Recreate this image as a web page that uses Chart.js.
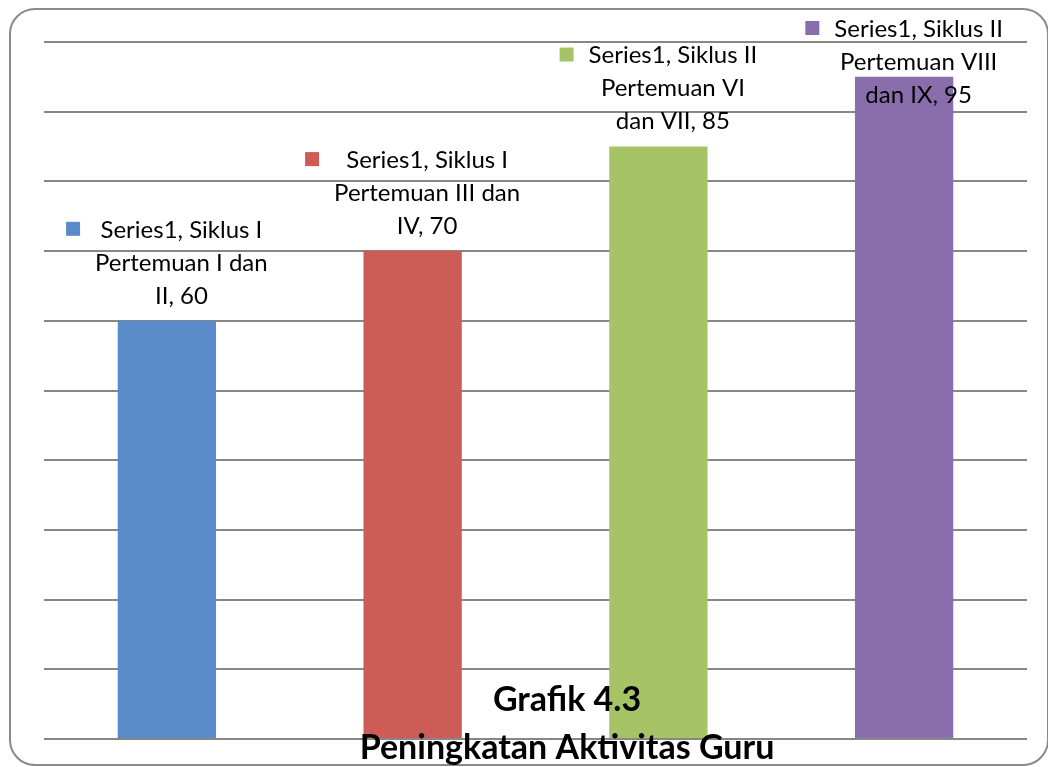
<!DOCTYPE html>
<html>
<head>
<meta charset="utf-8">
<script src="https://cdn.jsdelivr.net/npm/chart.js@4/dist/chart.umd.min.js"></script>
<style>
  html, body { margin: 0; padding: 0; background: #fff; }
  #wrap { position: relative; width: 1048px; height: 767px; overflow: hidden; }
  #frame {
    position: absolute; left: 9px; top: 8px; width: 1036px; height: 754px;
    border: 2px solid #8a8a8a; border-radius: 26px;
  }
  canvas { position: absolute; left: 0; top: 0; }
</style>
</head>
<body>
<div id="wrap">
  <div id="frame"></div>
  <canvas id="chart" width="1048" height="767"></canvas>
</div>
<script>
// data
const seriesName = "Series1";
const categories = [
  "Siklus I\nPertemuan I dan\nII",
  "Siklus I\nPertemuan III dan\nIV",
  "Siklus II\nPertemuan VI\ndan VII",
  "Siklus II\nPertemuan VIII\ndan IX"
];
const values = [60, 70, 85, 95];
const colors = ["#598bca", "#cd5b56", "#a6c465", "#896eab"];
const titleLines = ["Grafik 4.3", "Peningkatan Aktivitas Guru"];

// label drawn like Excel: legend key + "series, category, value"
const labelPlugin = {
  id: "barLabels",
  afterDatasetsDraw(chart) {
    const ctx = chart.ctx;
    const meta = chart.getDatasetMeta(0);
    ctx.save();
    ctx.font = "24px Lato";
    ctx.fillStyle = "#000";
    ctx.textAlign = "center";
    ctx.textBaseline = "middle";
    const lineH = 33, key = 14, gap = 15;
    meta.data.forEach((bar, i) => {
      const parts = categories[i].split("\n");
      const lines = [seriesName + ", " + parts[0]].concat(parts.slice(1));
      lines[lines.length - 1] += ", " + values[i];
      const w = Math.max(...lines.map(l => ctx.measureText(l).width));
      const start = bar.x - (key + gap + w) / 2;
      const cx = start + key + gap + w / 2;
      let y0 = bar.y - 25 - (lines.length - 1) * lineH;
      if (y0 < 29) y0 = 29;
      ctx.fillStyle = colors[i];
      ctx.fillRect(start, y0 - key / 2 - 1, key, key);
      ctx.fillStyle = "#000";
      lines.forEach((l, j) => ctx.fillText(l, cx, y0 + j * lineH));
    });
    // title sits over the bottom of the plot
    ctx.font = "bold 34px Lato";
    ctx.fillText(titleLines[0], 567, 700);
    ctx.fillText(titleLines[1], 567, 748);
    ctx.restore();
  }
};

new Chart(document.getElementById("chart"), {
  type: "bar",
  data: {
    labels: categories,
    datasets: [{
      label: seriesName,
      data: values,
      backgroundColor: colors,
      barPercentage: 0.4,
      categoryPercentage: 1
    }]
  },
  options: {
    responsive: false,
    animation: false,
    layout: { padding: { left: 44, right: 21, top: 42, bottom: 28 } },
    plugins: { legend: { display: false }, tooltip: { enabled: false } },
    scales: {
      x: { display: false },
      y: {
        min: 0, max: 100,
        ticks: { display: false, stepSize: 10 },
        border: { display: false },
        grid: { color: "#878787", lineWidth: 2, drawTicks: false }
      }
    }
  },
  plugins: [labelPlugin]
});
</script>
</body>
</html>
